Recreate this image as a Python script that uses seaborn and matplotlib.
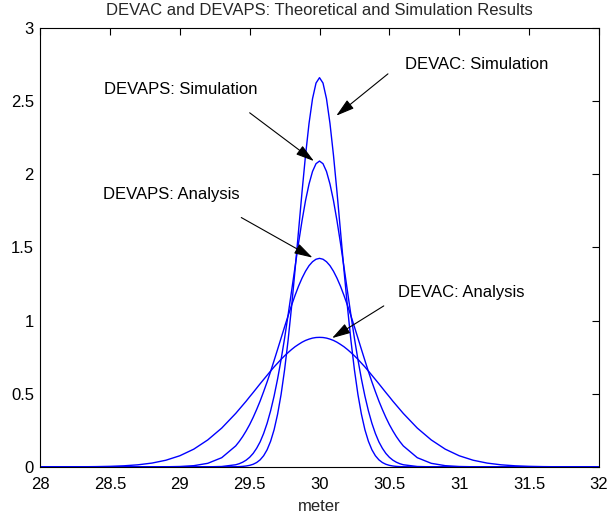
import matplotlib
matplotlib.use("Agg")
import matplotlib.pyplot as plt
import seaborn as sns
import pandas as pd
from matplotlib.ticker import FormatStrFormatter

# x positions (meter)
x_vals = [28.0, 28.1, 28.2, 28.3, 28.4, 28.5, 28.6, 28.7, 28.8, 28.9, 29.0, 29.1, 29.2, 29.3,
          29.4, 29.425, 29.45, 29.475, 29.5, 29.525, 29.55, 29.575, 29.6, 29.625, 29.65, 29.675,
          29.7, 29.725, 29.75, 29.775, 29.8, 29.825, 29.85, 29.875, 29.9, 29.925, 29.95, 29.975,
          30.0,
          30.025, 30.05, 30.075, 30.1, 30.125, 30.15, 30.175, 30.2, 30.225, 30.25, 30.275, 30.3,
          30.325, 30.35, 30.375, 30.4, 30.425, 30.45, 30.475, 30.5, 30.525, 30.55, 30.575, 30.6,
          30.7, 30.8, 30.9, 31.0, 31.1, 31.2, 31.3, 31.4, 31.5, 31.6, 31.7, 31.8, 31.9, 32.0]

devac_analysis = [0.0000, 0.0001, 0.0003, 0.0007, 0.0016, 0.0035, 0.0072, 0.0139, 0.0257, 0.0452, 0.0758, 0.121, 0.184, 0.265,
                  0.365, 0.393, 0.421, 0.449, 0.479, 0.508, 0.538, 0.568, 0.597, 0.626, 0.655, 0.683,
                  0.709, 0.735, 0.759, 0.781, 0.802, 0.821, 0.837, 0.852, 0.864, 0.873, 0.880, 0.884,
                  0.885,
                  0.884, 0.880, 0.873, 0.864, 0.852, 0.837, 0.821, 0.802, 0.781, 0.759, 0.735, 0.709,
                  0.683, 0.655, 0.626, 0.597, 0.568, 0.538, 0.508, 0.479, 0.449, 0.421, 0.393, 0.365,
                  0.265, 0.184, 0.121, 0.0758, 0.0452, 0.0257, 0.0139, 0.0072, 0.0035, 0.0016, 0.0007, 0.0003, 0.0001, 0.0000]

devaps_analysis = [0, 0, 0, 0, 0, 0, 0, 0, 0.0001, 0.0006, 0.0024, 0.0081, 0.0241, 0.0626,
                   0.143, 0.173, 0.207, 0.246, 0.289, 0.338, 0.392, 0.450, 0.514, 0.581, 0.652, 0.727,
                   0.803, 0.880, 0.957, 1.032, 1.104, 1.172, 1.235, 1.290, 1.337, 1.375, 1.402, 1.419,
                   1.425,
                   1.419, 1.402, 1.375, 1.337, 1.290, 1.235, 1.172, 1.104, 1.032, 0.957, 0.880, 0.803,
                   0.727, 0.652, 0.581, 0.514, 0.450, 0.392, 0.338, 0.289, 0.246, 0.207, 0.173, 0.143,
                   0.0626, 0.0241, 0.0081, 0.0024, 0.0006, 0.0001, 0, 0, 0, 0, 0, 0, 0, 0]

devaps_simulation = [0, 0, 0, 0, 0, 0, 0, 0, 0, 0, 0, 0, 0.0003, 0.0024,
                     0.0143, 0.0215, 0.0317, 0.0459, 0.0655, 0.0918, 0.127, 0.171, 0.228, 0.298, 0.383, 0.484,
                     0.601, 0.733, 0.879, 1.037, 1.201, 1.367, 1.530, 1.683, 1.820, 1.933, 2.019, 2.072,
                     2.090,
                     2.072, 2.019, 1.933, 1.820, 1.683, 1.530, 1.367, 1.201, 1.037, 0.879, 0.733, 0.601,
                     0.484, 0.383, 0.298, 0.228, 0.171, 0.127, 0.0918, 0.0655, 0.0459, 0.0317, 0.0215, 0.0143,
                     0.0024, 0.0003, 0, 0, 0, 0, 0, 0, 0, 0, 0, 0, 0, 0]

devac_simulation = [0, 0, 0, 0, 0, 0, 0, 0, 0, 0, 0, 0, 0, 0,
                    0.0009, 0.0017, 0.0032, 0.0058, 0.0103, 0.0177, 0.0296, 0.0480, 0.0760, 0.117, 0.175, 0.254,
                    0.360, 0.495, 0.663, 0.864, 1.094, 1.347, 1.613, 1.880, 2.130, 2.347, 2.516, 2.623,
                    2.660,
                    2.623, 2.516, 2.347, 2.130, 1.880, 1.613, 1.347, 1.094, 0.864, 0.663, 0.495, 0.360,
                    0.254, 0.175, 0.117, 0.0760, 0.0480, 0.0296, 0.0177, 0.0103, 0.0058, 0.0032, 0.0017, 0.0009,
                    0, 0, 0, 0, 0, 0, 0, 0, 0, 0, 0, 0, 0, 0]

series_names = ["DEVAC: Analysis", "DEVAPS: Analysis", "DEVAPS: Simulation", "DEVAC: Simulation"]
series_values = [devac_analysis, devaps_analysis, devaps_simulation, devac_simulation]

x_ticks = [28, 28.5, 29, 29.5, 30, 30.5, 31, 31.5, 32]
y_ticks = [0, 0.5, 1, 1.5, 2, 2.5, 3]

sns.set_style("white")
plt.rcParams["font.family"] = ["Liberation Sans", "DejaVu Sans"]

fig = plt.figure(figsize=(6.08, 5.17), dpi=100)
ax = fig.add_axes([0.066, 0.097, 0.919, 0.849])

frames = []
for name, vals in zip(series_names, series_values):
    frames.append(pd.DataFrame({"x": x_vals, "y": vals, "series": name}))
df = pd.concat(frames, ignore_index=True)

sns.lineplot(data=df, x="x", y="y", hue="series", palette=["#0000ff"] * 4,
             estimator=None, sort=False, linewidth=1.0, legend=False, ax=ax)

ax.set_xlim(28, 32)
ax.set_ylim(0, 3)
ax.set_xticks(x_ticks)
ax.set_yticks(y_ticks)
ax.xaxis.set_major_formatter(FormatStrFormatter("%g"))
ax.yaxis.set_major_formatter(FormatStrFormatter("%g"))
ax.tick_params(direction="in", length=5, width=0.8, top=True, right=True,
               labelsize=12, colors="black")
ax.tick_params(axis="x", pad=7)
ax.tick_params(axis="y", pad=4.5)
for s in ax.spines.values():
    s.set_visible(True)
    s.set_color("black")
    s.set_linewidth(0.8)

ax.set_xlabel("meter", fontsize=12, labelpad=5)
ax.set_ylabel("")
ax.set_title("DEVAC and DEVAPS: Theoretical and Simulation Results", fontsize=12, pad=9)

arrow = dict(arrowstyle="-|>,head_length=0.75,head_width=0.22", color="black", lw=0.8,
             mutation_scale=15, shrinkA=0, shrinkB=0)
annotations = [
    ("DEVAC: Simulation", (30.12, 2.40), (30.49, 2.686), (30.61, 2.747)),
    ("DEVAPS: Simulation", (29.96, 2.09), (29.50, 2.42), (28.46, 2.58)),
    ("DEVAPS: Analysis", (29.95, 1.43), (29.44, 1.704), (28.45, 1.861)),
    ("DEVAC: Analysis", (30.09, 0.88), (30.46, 1.10), (30.56, 1.193)),
]
for label, tip, tail, txt in annotations:
    ax.annotate("", xy=tip, xytext=tail, arrowprops=arrow)
    ax.text(txt[0], txt[1], label, fontsize=12, ha="left", va="center", color="black")

fig.savefig("out.png", dpi=100)
